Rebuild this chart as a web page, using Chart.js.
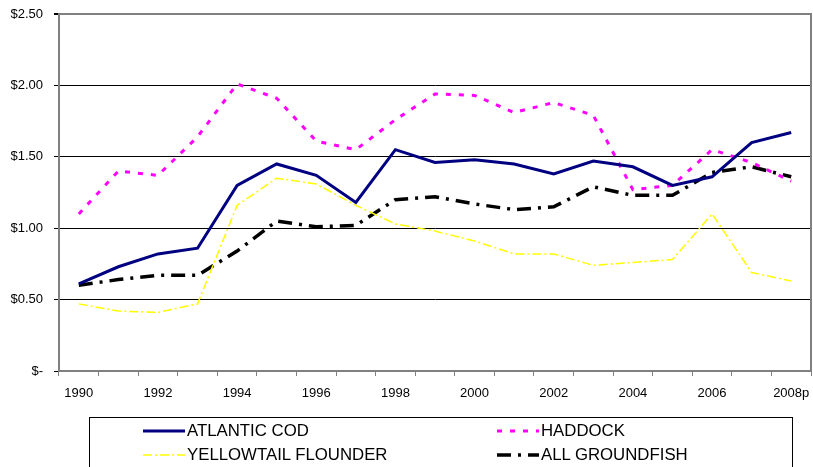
<!DOCTYPE html>
<html>
<head>
<meta charset="utf-8">
<script src="https://cdn.jsdelivr.net/npm/chart.js@4/dist/chart.umd.min.js"></script>
<style>
    body { margin: 0; background: #fff; font-family: "Liberation Sans", Arial, sans-serif; }
    #wrap { position: relative; width: 813px; height: 467px; overflow: hidden; }
    #legend { position: absolute; left: 89px; top: 417px; width: 704px; height: 70px; border: 1px solid #000; box-sizing: border-box; }
    .item { position: absolute; display: flex; align-items: center; font-size: 16.8px; color: #000; white-space: nowrap; }
    .item svg { margin-right: 2px; }
</style>
</head>
<body>
<div id="wrap">
    <canvas id="priceChart" width="813" height="467"></canvas>
    <div id="legend"></div>
</div>
<script>
// --- Data ---
const years = ['1990', '1991', '1992', '1993', '1994', '1995', '1996', '1997', '1998', '1999',
               '2000', '2001', '2002', '2003', '2004', '2005', '2006', '2007', '2008p'];
const atlanticCod = [0.61, 0.73, 0.82, 0.86, 1.30, 1.45, 1.37, 1.18, 1.55, 1.46,
                     1.48, 1.45, 1.38, 1.47, 1.43, 1.30, 1.36, 1.60, 1.67];
const haddock = [1.10, 1.40, 1.37, 1.64, 2.01, 1.91, 1.61, 1.55, 1.76, 1.94,
                 1.93, 1.81, 1.88, 1.79, 1.27, 1.30, 1.55, 1.46, 1.33];
const yellowtail = [0.47, 0.42, 0.41, 0.47, 1.16, 1.35, 1.31, 1.16, 1.03, 0.98,
                    0.91, 0.82, 0.82, 0.74, 0.76, 0.78, 1.10, 0.69, 0.63];
const allGroundfish = [0.60, 0.64, 0.67, 0.67, 0.84, 1.05, 1.01, 1.02, 1.20, 1.22,
                       1.17, 1.13, 1.15, 1.29, 1.23, 1.23, 1.39, 1.43, 1.36];
const yTicks = [0, 0.5, 1, 1.5, 2, 2.5];

const series = [
    { label: 'ATLANTIC COD', data: atlanticCod, color: '#000080', width: 3, dash: [] },
    { label: 'HADDOCK', data: haddock, color: '#FF00FF', width: 3, dash: [5, 8] },
    { label: 'YELLOWTAIL FLOUNDER', data: yellowtail, color: '#FFFF00', width: 1.5, dash: [9, 3, 2, 3] },
    { label: 'ALL GROUNDFISH', data: allGroundfish, color: '#000000', width: 3.5, dash: [14, 7, 3, 7] }
];

const GREY = '#808080';

// right side of the plot frame
const frameBorder = {
    id: 'frameBorder',
    afterDraw(chart) {
        const { ctx, chartArea } = chart;
        ctx.save();
        ctx.strokeStyle = GREY;
        ctx.lineWidth = 2;
        ctx.beginPath();
        ctx.moveTo(chartArea.right, chartArea.top - 1);
        ctx.lineTo(chartArea.right, chartArea.bottom);
        ctx.stroke();
        ctx.restore();
    }
};

const ctx = document.getElementById('priceChart');
new Chart(ctx, {
    type: 'line',
    data: {
        labels: years,
        datasets: series.map(s => ({
            label: s.label,
            data: s.data,
            borderColor: s.color,
            backgroundColor: s.color,
            borderWidth: s.width,
            borderDash: s.dash,
            pointRadius: 0,
            tension: 0,
            fill: false
        }))
    },
    options: {
        responsive: false,
        animation: false,
        layout: { padding: { top: 14, right: 2, left: 0, bottom: 0 } },
        plugins: {
            legend: { display: false },
            tooltip: { enabled: false }
        },
        scales: {
            x: {
                offset: true,
                grid: { offset: true, drawOnChartArea: false, color: GREY, tickLength: 5 },
                border: { color: GREY, width: 2 },
                ticks: {
                    autoSkip: false,
                    maxRotation: 0,
                    padding: 10,
                    color: '#000',
                    font: { family: 'Liberation Sans', size: 13 },
                    callback: (v, i) => (i % 2 === 0 ? years[i] : '')
                },
                afterFit: (scale) => {
                    scale.height = 96;
                    scale.paddingLeft = 0;
                    scale.paddingRight = 0;
                }
            },
            y: {
                min: 0,
                max: 2.5,
                afterBuildTicks: (scale) => { scale.ticks = yTicks.map(v => ({ value: v })); },
                grid: {
                    color: (c) => (c.tick && c.tick.value === 2.5 ? GREY : '#000'),
                    lineWidth: (c) => (c.tick && c.tick.value === 2.5 ? 2 : 1),
                    tickColor: '#000',
                    tickLength: 5
                },
                border: { color: GREY, width: 2 },
                ticks: {
                    padding: 11,
                    color: '#000',
                    font: { family: 'Liberation Sans', size: 13 },
                    callback: (v) => (v === 0 ? '$-' : '$' + v.toFixed(2))
                },
                afterFit: (scale) => {
                    scale.width = 59;
                    scale.paddingTop = 0;
                    scale.paddingBottom = 0;
                }
            }
        }
    },
    plugins: [frameBorder]
});

// --- HTML legend (2 x 2, boxed) ---
const legend = document.getElementById('legend');
const slots = [
    { left: 53, top: 3 },
    { left: 407, top: 3 },
    { left: 53, top: 27 },
    { left: 407, top: 27 }
];
series.forEach((s, i) => {
    const item = document.createElement('div');
    item.className = 'item';
    item.style.left = slots[i].left + 'px';
    item.style.top = slots[i].top + 'px';
    item.innerHTML = `<svg width="42" height="20"><line x1="0" y1="10" x2="42" y2="10" stroke="${s.color}" stroke-width="${s.width}" stroke-dasharray="${s.dash.length ? s.dash.join(',') : 'none'}"/></svg><span>${s.label}</span>`;
    legend.appendChild(item);
});
</script>
</body>
</html>
